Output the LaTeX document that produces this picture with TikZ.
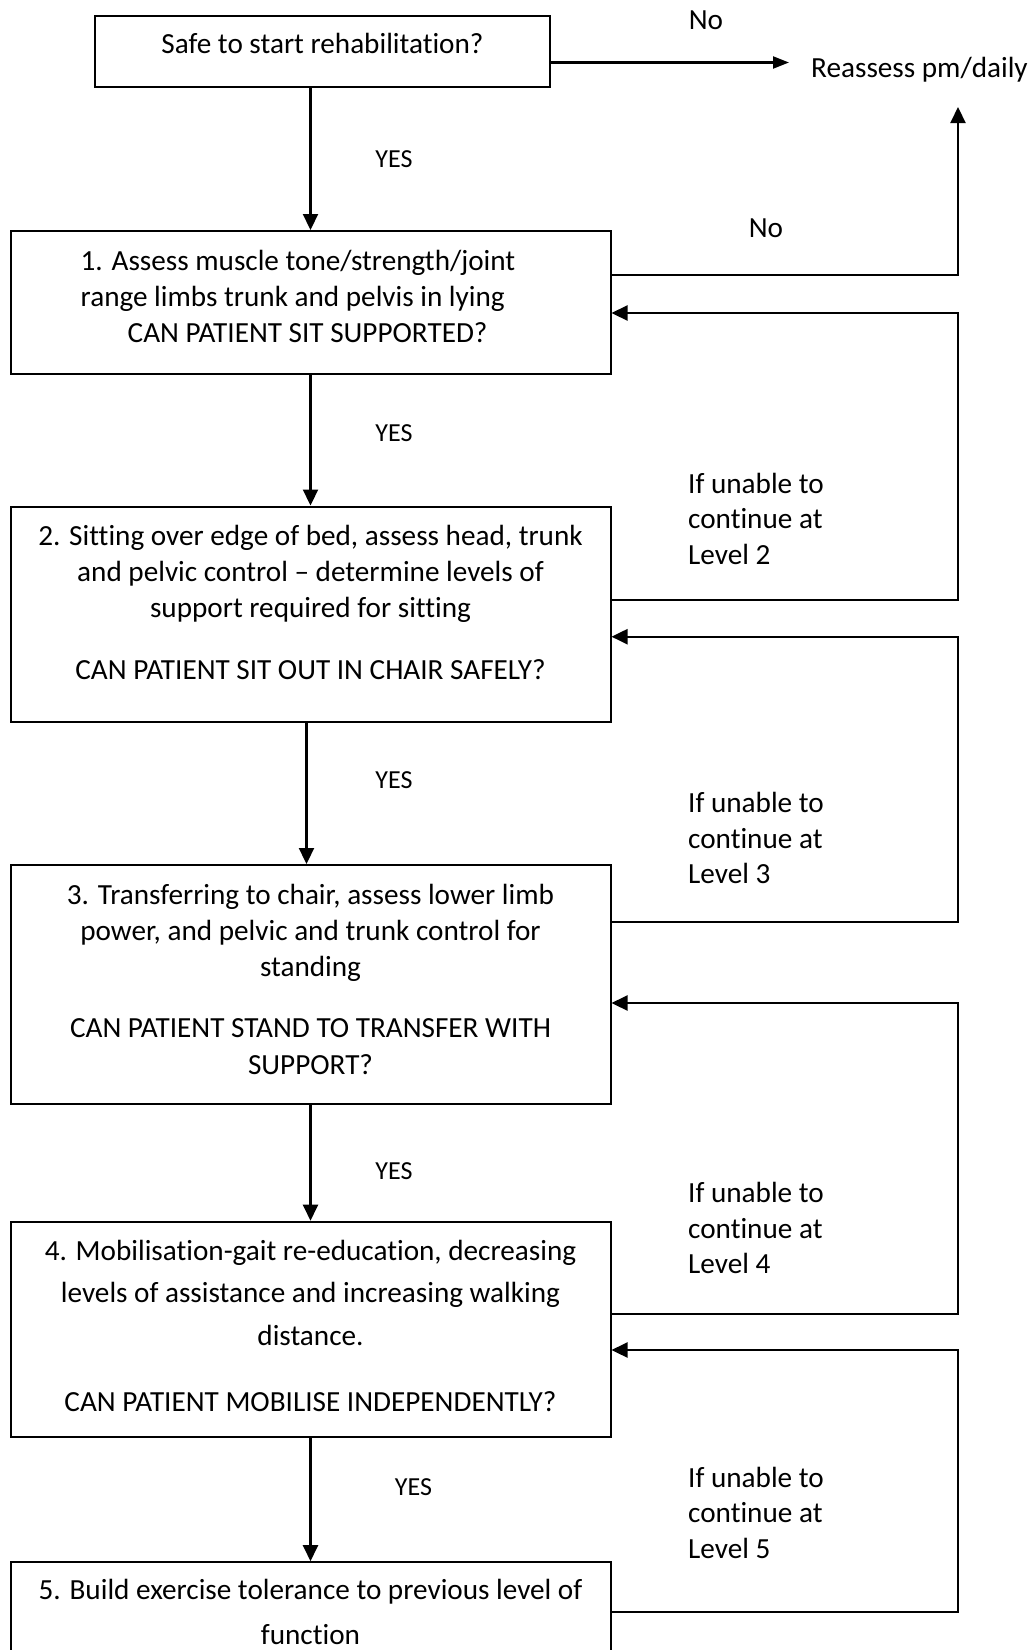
\documentclass[tikz,border=0pt]{standalone}
\usepackage{fontspec}
\setmainfont{Carlito}[Ligatures={NoCommon}]
\usetikzlibrary{arrows.meta,positioning}

% struts to put the first line near the top of a box
\newcommand{\toppad}{\rule{0pt}{23pt}}
\newcommand{\lowpad}[1]{\rule[-#1]{0pt}{#1}}

\begin{document}
\begin{tikzpicture}[
    x=1pt, y=1pt,
    stage/.style={rectangle, draw=black, line width=2pt, align=center, minimum width=600pt, inner sep=6pt, font=\fontsize{29.2}{36}\selectfont},
    tag/.style={inner sep=0pt, font=\fontsize{29.2}{36}\selectfont},
    yes/.style={inner sep=0pt, font=\fontsize{26}{31}\selectfont},
    note/.style={inner sep=0pt, anchor=west, align=left, font=\fontsize{29.2}{35.5}\selectfont},
    line/.style={-{Triangle[length=16pt,width=15pt]}, line width=2.2pt}
]
\useasboundingbox (0,0) rectangle (1035,-1650);
\clip (0,0) rectangle (1035,-1650);

\node[stage, minimum width=455pt, minimum height=71pt, anchor=north] (safe) at (322.5,-15) {\toppad Safe to start rehabilitation?\lowpad{20pt}};
\node[stage, minimum height=143pt, anchor=north, align=left] (box1) at (310.5,-230) {\toppad 1. Assess muscle tone/strength/joint\hspace*{25pt}\\ range limbs trunk and pelvis in lying\\ \hspace*{47pt}CAN PATIENT SIT SUPPORTED?\lowpad{16pt}};
\node[stage, minimum height=215.5pt, below=130.5pt of box1] (box2) {\toppad 2. Sitting over edge of bed, assess head, trunk\\ and pelvic control – determine levels of\\ support required for sitting\\[26pt] CAN PATIENT SIT OUT IN CHAIR SAFELY?\lowpad{26.5pt}};
\node[stage, minimum height=239pt, below=141pt of box2] (box3) {\toppad 3. Transferring to chair, assess lower limb\\ power, and pelvic and trunk control for\\ standing\\[25pt] CAN PATIENT STAND TO TRANSFER WITH\\[1pt] SUPPORT?\lowpad{14pt}};
\node[stage, minimum height=215.5pt, below=115.7pt of box3] (box4) {\toppad 4. Mobilisation-gait re-education, decreasing\\[6pt] levels of assistance and increasing walking\\[7pt] distance.\\[30pt] CAN PATIENT MOBILISE INDEPENDENTLY?\lowpad{9.5pt}};
\node[stage, minimum height=119pt, below=123pt of box4] (box5) {\toppad 5. Build exercise tolerance to previous level of\\[9pt] function\lowpad{23pt}};

\node[tag] (noTop) at (706,-20.4) {No};
\node[tag] (noSide) at (766,-228.7) {No};
\node[tag, anchor=west] (reassess) at (811,-69.7) {Reassess pm/daily};

\node[yes] (yes1) at (394,-159) {YES};
\node[yes] (yes2) at (394,-433.5) {YES};
\node[yes] (yes3) at (394,-780) {YES};
\node[yes] (yes4) at (394,-1171) {YES};
\node[yes] (yes5) at (413.5,-1487) {YES};

\node[note] (lvl2) at (688,-518.5) {If unable to\\continue at\\Level 2};
\node[note] (lvl3) at (688,-838) {If unable to\\continue at\\Level 3};
\node[note] (lvl4) at (688,-1228) {If unable to\\continue at\\Level 4};
\node[note] (lvl5) at (688,-1512.5) {If unable to\\continue at\\Level 5};

\coordinate (noTip) at (789,-62.5);
\coordinate (upTip) at (958,-107);
\coordinate (rail) at (958,0);
\coordinate (out1) at ([yshift=-45pt]box1.north east);
\coordinate (in1) at ([yshift=-83pt]box1.north east);
\coordinate (out2) at ([yshift=-94.5pt]box2.north east);
\coordinate (in2) at ([yshift=-131.2pt]box2.north east);
\coordinate (out3) at ([yshift=-57.7pt]box3.north east);
\coordinate (in3) at ([yshift=-139pt]box3.north east);
\coordinate (out4) at ([yshift=-93.3pt]box4.north east);
\coordinate (in4) at ([yshift=-129.3pt]box4.north east);
\coordinate (out5) at ([yshift=-51pt]box5.north east);

\draw[line, -{Triangle[length=16pt,width=12pt]}] (safe.east |- noTip) -- (noTip);
\draw[line] (safe.south -| box1.north) -- (box1.north);
\draw[line] (box1.south) -- (box2.north);
\draw[line] ([xshift=-4pt]box2.south) -- ([xshift=-4pt]box3.north);
\draw[line] (box3.south) -- (box4.north);
\draw[line] (box4.south) -- (box5.north);

\draw[line] (out1) -| (upTip);
\foreach \a/\b in {out2/in1, out3/in2, out4/in3, out5/in4}
  \draw[line] (\a) -| (rail |- \b) -- (\b);
\end{tikzpicture}
\end{document}
